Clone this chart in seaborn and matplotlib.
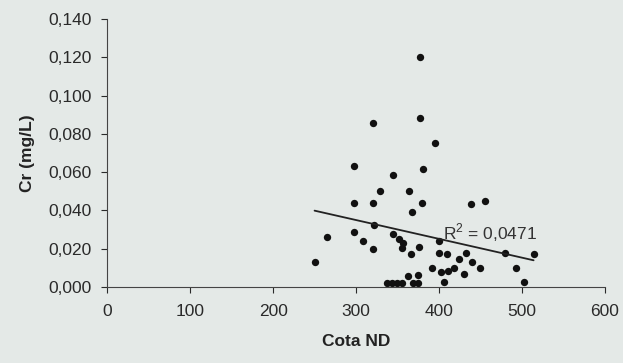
import matplotlib
matplotlib.use("Agg")
import matplotlib.pyplot as plt
import seaborn as sns
import numpy as np
import pandas as pd
from matplotlib.ticker import FuncFormatter

cota = [250, 265, 297, 297, 297, 308, 320, 320, 320, 322, 329, 337, 343, 345, 344,
        349, 352, 355, 356, 355, 363, 364, 366, 368, 369, 375, 375, 376, 377, 377,
        379, 381, 391, 395, 400, 400, 403, 406, 410, 411, 418, 424, 430, 433, 438,
        440, 449, 455, 480, 493, 502, 514]
cr = [0.0132, 0.0263, 0.0632, 0.0440, 0.0289, 0.0240, 0.0855, 0.0440, 0.0199, 0.0326,
      0.0502, 0.0022, 0.0022, 0.0583, 0.0277, 0.0022, 0.0251, 0.0022, 0.0231, 0.0202,
      0.0060, 0.0503, 0.0171, 0.0392, 0.0022, 0.0022, 0.0063, 0.0211, 0.1200, 0.0885,
      0.0440, 0.0615, 0.0098, 0.0754, 0.0240, 0.0179, 0.0080, 0.0028, 0.0172, 0.0085,
      0.0098, 0.0146, 0.0071, 0.0179, 0.0434, 0.0132, 0.0099, 0.0451, 0.0179, 0.0101,
      0.0026, 0.0171]
r2_label = "R$^2$ = 0,0471"

df = pd.DataFrame({"Cota ND": cota, "Cr (mg/L)": cr})

sns.set_style("ticks")
plt.rcParams['font.family'] = ['Liberation Sans', 'DejaVu Sans']
plt.rcParams['mathtext.fontset'] = 'custom'
plt.rcParams['mathtext.rm'] = 'Liberation Sans'

bg = "#e4e9e7"
fig = plt.figure(figsize=(6.23, 3.63), dpi=100, facecolor=bg)
ax = fig.add_axes([0.172, 0.209, 0.799, 0.739])
ax.set_facecolor(bg)

sns.regplot(data=df, x="Cota ND", y="Cr (mg/L)", ax=ax, ci=None,
            scatter_kws=dict(marker="D", s=28, color="#111111", linewidths=0, alpha=1),
            line_kws=dict(color="#222222", lw=1.3))

ax.set_xlim(0, 600)
ax.set_ylim(0, 0.14)
ax.set_xticks(np.arange(0, 601, 100))
ax.set_yticks(np.arange(0, 0.1401, 0.02))
ax.yaxis.set_major_formatter(FuncFormatter(lambda v, p: f"{v:.3f}".replace(".", ",")))
ax.tick_params(labelsize=12.5, colors="#2a2a2a", length=4, width=0.8)
ax.tick_params(axis="x", pad=8)
ax.tick_params(axis="y", pad=7)
for s in ["top", "right"]:
    ax.spines[s].set_visible(False)
for s in ["left", "bottom"]:
    ax.spines[s].set_color("#444444")
    ax.spines[s].set_linewidth(0.8)

ax.set_xlabel("Cota ND", fontsize=12.5, fontweight="bold", color="#222222", labelpad=11)
ax.set_ylabel("Cr (mg/L)", fontsize=12.5, fontweight="bold", color="#222222", labelpad=10)
ax.text(405, 0.0285, r2_label, fontsize=12.5, color="#333333", va="center", ha="left")

fig.savefig("out.png", dpi=100, facecolor=bg)
